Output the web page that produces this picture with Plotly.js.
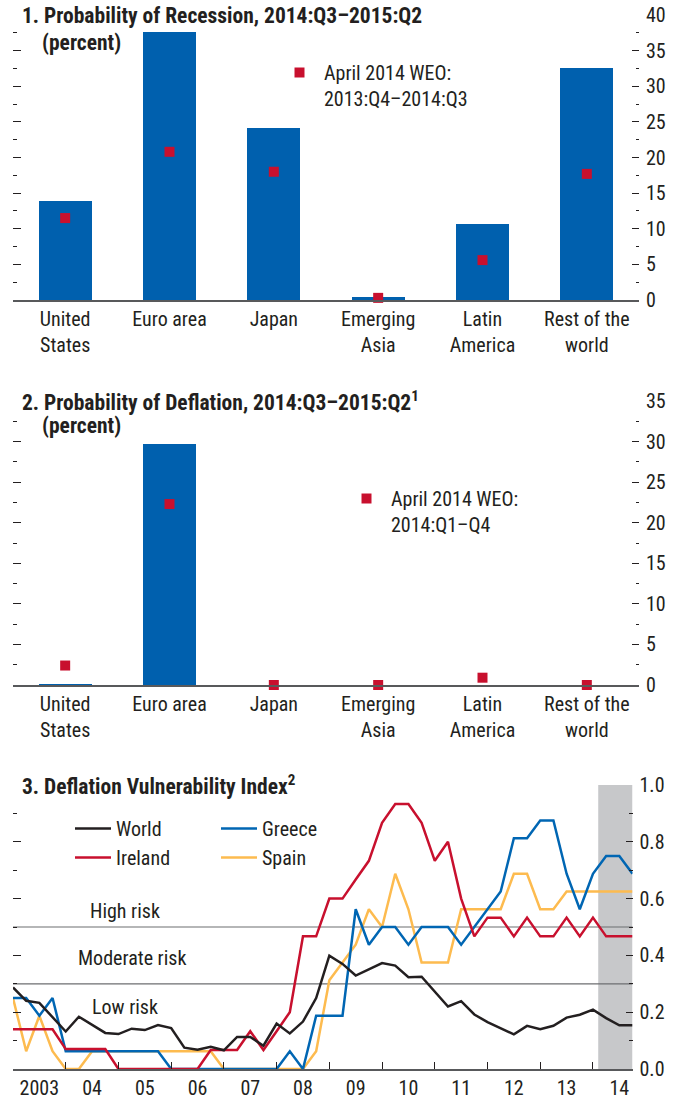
<!DOCTYPE html>
<html><head><meta charset="utf-8">
<script src="https://cdn.plot.ly/plotly-3.0.1.min.js"></script>
<style>html,body{margin:0;padding:0;background:#fff}</style>
</head><body><div id="chart" style="width:679px;height:1100px"></div>
<script>
// ---------- data ----------
const categories = ['United<br>States', 'Euro area', 'Japan', 'Emerging<br>Asia', 'Latin<br>America', 'Rest of the<br>world'];
const recessionProb  = [13.9, 37.6, 24.2, 0.4, 10.7, 32.6];
const recessionApril = [11.5, 20.8, 18.0, 0.3, 5.6, 17.7];
const deflationProb  = [0.15, 29.7, 0, 0, 0, 0];
const deflationApril = [2.4, 22.3, 0, 0, 0.9, 0];

const world = [0.287, 0.240, 0.233, 0.182, 0.132, 0.184, 0.157, 0.127, 0.123, 0.142, 0.137, 0.155,
               0.144, 0.075, 0.068, 0.078, 0.066, 0.113, 0.113, 0.082, 0.160, 0.125, 0.167, 0.250,
               0.399, 0.370, 0.329, 0.350, 0.373, 0.364, 0.323, 0.325, 0.273, 0.220, 0.239, 0.192,
               0.165, 0.143, 0.122, 0.152, 0.140, 0.152, 0.181, 0.191, 0.209, 0.179, 0.154, 0.154];
const ireland = [0.14, 0.14, 0.14, 0.14, 0.07, 0.07, 0.07, 0.07, 0, 0, 0, 0,
                 0, 0, 0, 0.067, 0.067, 0.067, 0.133, 0.067, 0.133, 0.2, 0.467, 0.467,
                 0.6, 0.6, 0.667, 0.733, 0.867, 0.933, 0.933, 0.867, 0.733, 0.8, 0.6, 0.467,
                 0.533, 0.533, 0.467, 0.533, 0.467, 0.467, 0.533, 0.467, 0.533, 0.467, 0.467, 0.467];
const greece = [0.25, 0.25, 0.1875, 0.25, 0.0625, 0.0625, 0.0625, 0.0625, 0.0625, 0.0625, 0.0625, 0.0625,
                0, 0, 0, 0, 0, 0, 0, 0, 0, 0.0625, 0, 0.1875,
                0.1875, 0.1875, 0.5625, 0.4375, 0.5, 0.5, 0.4375, 0.5, 0.5, 0.5, 0.4375, 0.5,
                0.5625, 0.625, 0.8125, 0.8125, 0.875, 0.875, 0.6875, 0.5625, 0.6875, 0.75, 0.75, 0.6875];
const spain = [0.25, 0.0625, 0.1875, 0.0625, 0, 0, 0.0625, 0.0625, 0.0625, 0.0625, 0.0625, 0.0625,
               0.0625, 0.0625, 0.0625, 0.0625, 0, 0, 0, 0, 0, 0, 0, 0.0625,
               0.3125, 0.375, 0.4375, 0.5625, 0.5, 0.6875, 0.5625, 0.375, 0.375, 0.375, 0.5625, 0.5625,
               0.5625, 0.5625, 0.6875, 0.6875, 0.5625, 0.5625, 0.625, 0.625, 0.625, 0.625, 0.625, 0.625];
const years = [2003, 2004, 2005, 2006, 2007, 2008, 2009, 2010, 2011, 2012, 2013, 2014];
const yearLabels = ['2003', '04', '05', '06', '07', '08', '09', '10', '11', '12', '13', '14'];
const riskLevels = [0.3, 0.5];
const shadeStartYear = 2014.1;

// quarterly positions (2003:Q1 ... 2014:Q4)
const quarterX = [];
years.forEach(y => { for (let q = 0; q < 4; q++) quarterX.push(y + q / 4); });

// ---------- style ----------
const FONT = "'Roboto Condensed', Roboto, 'Liberation Sans', Arial, sans-serif";
const TXT = '#231f20';
const BLUE = '#0060ae', RED = '#c8102e', YEL = '#fdbb4f', LBLUE = '#0066b3';
const W = 679, H = 1100;
const px = v => v / W, py = v => 1 - v / H;
const F = (s) => ({family: FONT, size: s || 20, color: TXT});

const barAxisCommon = {
  type: 'category', range: [-0.5, 5.5], showline: true, linecolor: '#58595b', linewidth: 1.5,
  ticks: '', showgrid: false, zeroline: false, fixedrange: true, tickfont: F(20)
};
function yRight(domain, range, dtick, minor, fmt) {
  return {domain: domain, range: range, side: 'right', dtick: dtick, tick0: 0, ticks: 'inside', ticklen: 7,
    tickwidth: 1, tickcolor: TXT, showgrid: false, zeroline: false, showline: false, fixedrange: true,
    tickformat: fmt || '', tickfont: F(20), ticklabelstandoff: 6,
    minor: {dtick: minor, tick0: 0, ticks: 'inside', ticklen: 3.5, tickwidth: 1, tickcolor: TXT}};
}
function yLeft(base, anchor, range, dtick, minor) {
  return {overlaying: base, anchor: anchor, side: 'left', range: range, dtick: dtick, tick0: 0,
    ticks: 'inside', ticklen: 8, tickwidth: 1, tickcolor: TXT, showticklabels: false,
    showgrid: false, zeroline: false, showline: false, fixedrange: true,
    minor: {dtick: minor, tick0: 0, ticks: 'inside', ticklen: 4, tickwidth: 1, tickcolor: TXT}};
}

const traces = [
  {type: 'bar', x: categories, y: recessionProb, xaxis: 'x', yaxis: 'y', width: 0.51,
   marker: {color: BLUE}, showlegend: false, hoverinfo: 'skip'},
  {type: 'scatter', mode: 'markers', x: categories, y: recessionApril, xaxis: 'x', yaxis: 'y',
   marker: {symbol: 'square', size: 10, color: RED}, cliponaxis: false,
   name: 'April 2014 WEO:<br>2013:Q4–2014:Q3', legend: 'legend3'},
  {type: 'bar', x: categories, y: deflationProb, xaxis: 'x2', yaxis: 'y2', width: 0.51,
   marker: {color: BLUE}, showlegend: false, hoverinfo: 'skip'},
  {type: 'scatter', mode: 'markers', x: categories, y: deflationApril, xaxis: 'x2', yaxis: 'y2',
   marker: {symbol: 'square', size: 10, color: RED}, cliponaxis: false,
   name: 'April 2014 WEO:<br>2014:Q1–Q4', legend: 'legend4'},
  {type: 'scatter', mode: 'lines', x: quarterX, y: spain, xaxis: 'x3', yaxis: 'y3', name: 'Spain',
   line: {color: YEL, width: 2.5}, legend: 'legend2', legendrank: 2},
  {type: 'scatter', mode: 'lines', x: quarterX, y: greece, xaxis: 'x3', yaxis: 'y3', name: 'Greece',
   line: {color: LBLUE, width: 2.5}, legend: 'legend2', legendrank: 1},
  {type: 'scatter', mode: 'lines', x: quarterX, y: ireland, xaxis: 'x3', yaxis: 'y3', name: 'Ireland',
   line: {color: RED, width: 2.5}, legend: 'legend', legendrank: 2},
  {type: 'scatter', mode: 'lines', x: quarterX, y: world, xaxis: 'x3', yaxis: 'y3', name: 'World',
   line: {color: TXT, width: 2.5}, legend: 'legend', legendrank: 1},
  // carriers so the left-hand tick axes are drawn
  {type: 'scatter', mode: 'none', x: [categories[0]], y: [0], xaxis: 'x', yaxis: 'y4', showlegend: false, hoverinfo: 'skip'},
  {type: 'scatter', mode: 'none', x: [categories[0]], y: [0], xaxis: 'x2', yaxis: 'y5', showlegend: false, hoverinfo: 'skip'},
  {type: 'scatter', mode: 'none', x: [years[0]], y: [0], xaxis: 'x3', yaxis: 'y6', showlegend: false, hoverinfo: 'skip'},
  {type: 'scatter', mode: 'none', x: [years[0]], y: [0], xaxis: 'x4', yaxis: 'y3', showlegend: false, hoverinfo: 'skip'}
];

const legendCommon = {xanchor: 'left', yanchor: 'top', bgcolor: 'rgba(0,0,0,0)', borderwidth: 0,
  font: F(20), tracegroupgap: 0, valign: 'top'};

const ann = (text, x, y) => ({text: text, xref: 'paper', yref: 'paper', x: px(x), y: py(y),
  xanchor: 'left', yanchor: 'middle', showarrow: false, font: F(21.5)});
const riskAnn = (text, x, y) => ({text: text, xref: 'x3', yref: 'y3', x: x, y: y, showarrow: false, font: F(20)});

const layout = {
  width: W, height: H, margin: {l: 0, r: 0, t: 0, b: 0}, paper_bgcolor: '#fff', plot_bgcolor: 'rgba(0,0,0,0)',
  font: F(20), bargap: 0,
  xaxis: Object.assign({domain: [px(13), px(639)], anchor: 'y'}, barAxisCommon),
  yaxis: Object.assign(yRight([py(300), py(15)], [0, 40], 5, 2.5), {anchor: 'x'}),
  yaxis4: yLeft('y', 'x', [0, 40], 5, 2.5),
  xaxis2: Object.assign({domain: [px(13), px(639)], anchor: 'y2'}, barAxisCommon),
  yaxis2: Object.assign(yRight([py(685), py(401)], [0, 35], 5, 2.5), {anchor: 'x2'}),
  yaxis5: yLeft('y2', 'x2', [0, 35], 5, 2.5),
  xaxis3: {domain: [px(13), px(632.5)], anchor: 'y3', range: [2003, 2014.75], tickvals: years.map(y => y + 0.5),
    ticktext: yearLabels, ticks: '', showline: true, linecolor: '#58595b', linewidth: 1.5, showgrid: false,
    zeroline: false, fixedrange: true, tickfont: F(20)},
  xaxis4: {overlaying: 'x3', anchor: 'y3', side: 'bottom', range: [2003, 2014.75], tickvals: years, ticks: 'inside',
    ticklen: 7, tickwidth: 1, tickcolor: TXT, showticklabels: false, showgrid: false, zeroline: false,
    showline: false, fixedrange: true},
  yaxis3: Object.assign(yRight([py(1069), py(785)], [0, 1], 0.2, 0.1, '.1f'), {anchor: 'x3'}),
  yaxis6: yLeft('y3', 'x3', [0, 1], 0.2, 0.1),
  legend: Object.assign({x: px(70), y: py(809), itemwidth: 36}, legendCommon),
  legend2: Object.assign({x: px(216), y: py(809), itemwidth: 36}, legendCommon),
  legend3: Object.assign({x: px(275), y: py(53), itemwidth: 39}, legendCommon),
  legend4: Object.assign({x: px(342), y: py(479), itemwidth: 39}, legendCommon),
  shapes: [
    {type: 'rect', xref: 'x3', yref: 'y3 domain', x0: shadeStartYear, x1: 2014.75, y0: 0, y1: 1,
     fillcolor: '#c7c8ca', line: {width: 0}, layer: 'below'},
    ...riskLevels.map(v => ({type: 'line', xref: 'x3 domain', yref: 'y3', x0: 0, x1: 1, y0: v, y1: v,
     line: {color: '#6d6e71', width: 1.2}, layer: 'below'}))
  ],
  annotations: [
    ann('<b>1. Probability of Recession, 2014:Q3–2015:Q2</b>', 20, 16),
    ann('<b>(percent)</b>', 40, 42),
    ann('<b>2. Probability of Deflation, 2014:Q3–2015:Q2<sup>1</sup></b>', 20, 401),
    ann('<b>(percent)</b>', 40, 425),
    ann('<b>3. Deflation Vulnerability Index<sup>2</sup></b>', 20, 785),
    riskAnn('High risk', 2005.13, 0.555),
    riskAnn('Moderate risk', 2005.25, 0.39),
    riskAnn('Low risk', 2005.13, 0.22)
  ]
};

Plotly.newPlot('chart', traces, layout, {staticPlot: true, displayModeBar: false});
</script>
</body></html>
